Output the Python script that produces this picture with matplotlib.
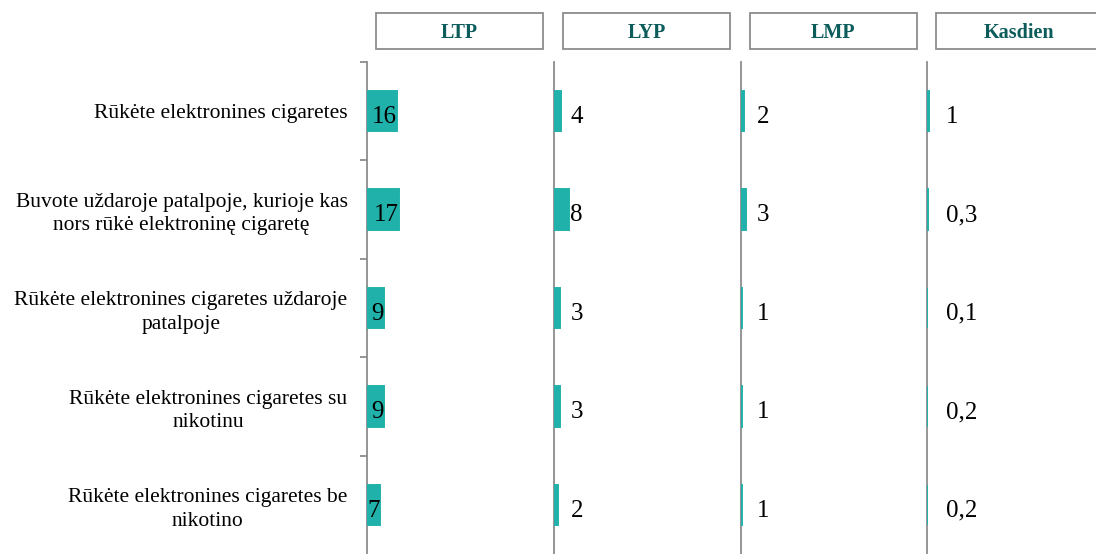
import matplotlib
matplotlib.use("Agg")
import matplotlib.pyplot as plt
from matplotlib.patches import Rectangle

categories = [
    "Rūkėte elektronines cigaretes",
    "Buvote uždaroje patalpoje, kurioje kas\nnors rūkė elektroninę cigaretę",
    "Rūkėte elektronines cigaretes uždaroje\npatalpoje",
    "Rūkėte elektronines cigaretes su\nnikotinu",
    "Rūkėte elektronines cigaretes be\nnikotino",
]
panels = ["LTP", "LYP", "LMP", "Kasdien"]
ltp = [16, 17, 9, 9, 7]
lyp = [4, 8, 3, 3, 2]
lmp = [2, 3, 1, 1, 1]
kasdien = [1, 0.3, 0.1, 0.2, 0.2]
series = [ltp, lyp, lmp, kasdien]

def fmt(v):
    s = ("%g" % v)
    return s.replace(".", ",")

plt.rcParams["font.family"] = ["Liberation Serif", "DejaVu Serif"]

W, H = 1096, 554
fig = plt.figure(figsize=(W / 100, H / 100), dpi=100)

bar_color = "#20B2AA"
grey = "#8C8C8C"
head_color = "#0D5C5C"

lefts = [367, 554, 740.5, 927]
pw = 186.5
top_px, bot_px = 62, 554
label_x = [None, 8.8, 8.8, 10.0]

for i, (name, vals) in enumerate(zip(panels, series)):
    ax = fig.add_axes([lefts[i] / W, 1 - bot_px / H, pw / W, (bot_px - top_px) / H])
    y = list(range(len(categories)))
    ax.barh(y, vals, height=0.41, color=bar_color, edgecolor=bar_color,
            linewidth=1.4, zorder=3)
    ax.set_xlim(0, 100)
    ax.set_ylim(len(categories) - 0.5, -0.5)
    for s in ["top", "right", "bottom"]:
        ax.spines[s].set_visible(False)
    ax.spines["left"].set_color(grey)
    ax.spines["left"].set_linewidth(1.3)
    ax.set_xticks([])
    if i == 0:
        ax.set_yticks([k - 0.5 for k in range(len(categories))])
        ax.set_yticklabels([])
        ax.set_yticks(y, minor=True)
        ax.set_yticklabels(categories, minor=True, fontsize=15.5,
                           ha="right", multialignment="center",
                           linespacing=1.3)
        ax.tick_params(axis="y", which="major", length=5, color=grey, width=1.3)
        ax.tick_params(axis="y", which="minor", length=0, pad=14)
        for k, v in enumerate(vals):
            ax.text(v, k + 0.12, fmt(v), ha="right", va="baseline", fontsize=18,
                    zorder=4)
    else:
        ax.set_yticks([])
        for k, v in enumerate(vals):
            ax.text(label_x[i], k + 0.12, fmt(v), ha="left", va="baseline",
                    fontsize=18, zorder=4)
    # header box
    bx0 = 9 / pw
    bw = 167 / pw
    by0 = 1 + 13 / (bot_px - top_px)
    bh = 36 / (bot_px - top_px)
    ax.add_patch(Rectangle((bx0, by0), bw, bh, transform=ax.transAxes,
                           facecolor="white", edgecolor=grey, linewidth=1.3,
                           clip_on=False))
    ax.text(bx0 + bw / 2, by0 + bh / 2, name, transform=ax.transAxes,
            ha="center", va="center_baseline", fontsize=14.5, fontweight="bold",
            color=head_color)

fig.savefig("out.png", dpi=100)
